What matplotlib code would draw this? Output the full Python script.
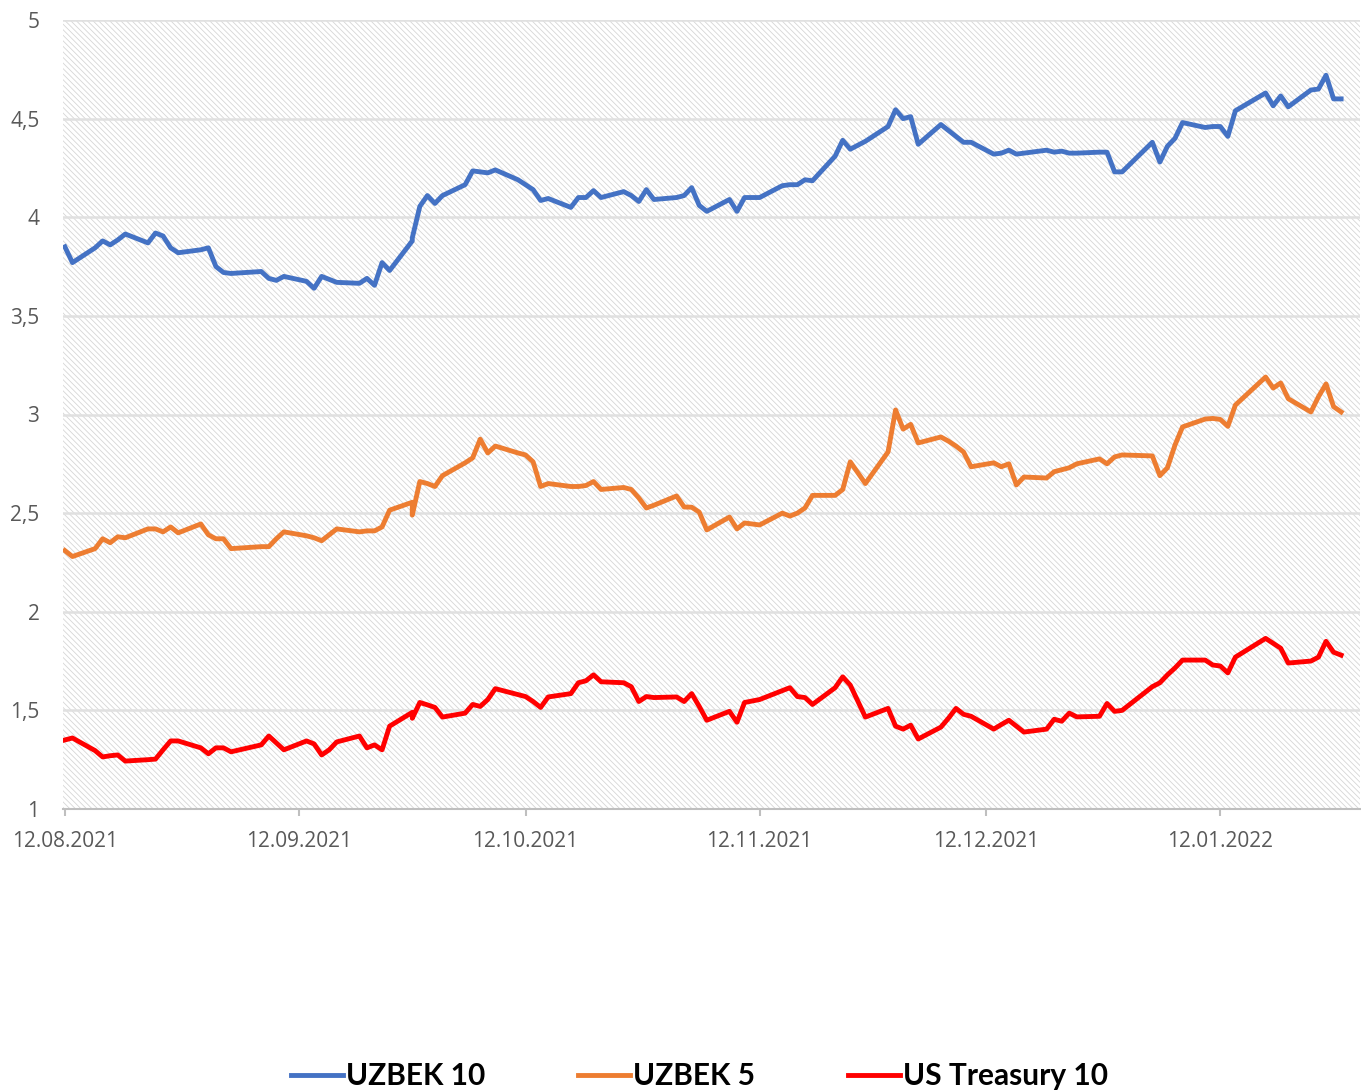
import matplotlib
matplotlib.use("Agg")
import matplotlib.pyplot as plt
import matplotlib.dates as mdates
from matplotlib.patches import Rectangle
import pandas as pd


# trading days, day of month per month
aug = [12, 13, 16, 17, 18, 19, 20, 23, 24, 25, 26, 27, 30, 31]
sep = [1, 2, 3, 7, 8, 9, 10, 13, 14, 15, 16, 17, 20, 21, 22, 23, 24, 27, 27, 28, 29, 30]
oct_ = [1, 4, 5, 6, 7, 8, 11, 12, 13, 14, 15, 18, 19, 20, 21, 22, 25, 26, 27, 28, 29]
nov = [1, 2, 3, 4, 5, 8, 9, 10, 12, 15, 16, 17, 18, 19, 22, 23, 24, 26, 29, 30]
dec = [1, 2, 3, 6, 7, 8, 9, 10, 13, 14, 15, 16, 17, 20, 21, 22, 23, 24, 27, 28, 29, 30]
jan = [3, 4, 5, 6, 7, 10, 11, 12, 13, 14, 18, 19, 20, 21, 24, 25, 26, 27, 28]

uzbek10 = [
    3.85, 3.77, 3.845, 3.88, 3.86, 3.885, 3.915, 3.87, 3.92, 3.905, 3.845, 3.82, 3.835, 3.845,
    3.75, 3.72, 3.715, 3.725, 3.69, 3.68, 3.70, 3.675, 3.64, 3.70, 3.685, 3.67, 3.665, 3.69,
    3.655, 3.77, 3.73, 3.88, 3.895, 4.055, 4.11, 4.07,
    4.11, 4.165, 4.235, 4.23, 4.225, 4.24, 4.19, 4.165, 4.14, 4.085, 4.095, 4.05, 4.10, 4.10,
    4.135, 4.10, 4.13, 4.11, 4.08, 4.14, 4.09,
    4.10, 4.11, 4.15, 4.06, 4.03, 4.09, 4.03, 4.10, 4.10, 4.16, 4.165, 4.165, 4.19, 4.185,
    4.31, 4.39, 4.345, 4.385, 4.46, 4.545,
    4.50, 4.51, 4.37, 4.47, 4.44, 4.41, 4.38, 4.38, 4.32, 4.325, 4.34, 4.32, 4.325, 4.34,
    4.33, 4.335, 4.325, 4.325, 4.33, 4.33, 4.23, 4.23,
    4.38, 4.28, 4.36, 4.40, 4.48, 4.455, 4.46, 4.46, 4.41, 4.54, 4.63, 4.565, 4.615, 4.56,
    4.645, 4.65, 4.72, 4.60, 4.60,
]

uzbek5 = [
    2.31, 2.28, 2.32, 2.37, 2.35, 2.38, 2.375, 2.42, 2.42, 2.405, 2.43, 2.40, 2.445, 2.39,
    2.37, 2.37, 2.32, 2.33, 2.33, 2.37, 2.405, 2.385, 2.375, 2.36, 2.39, 2.42, 2.405, 2.41,
    2.41, 2.43, 2.515, 2.555, 2.49, 2.66, 2.65, 2.635,
    2.69, 2.755, 2.78, 2.875, 2.805, 2.84, 2.805, 2.795, 2.76, 2.635, 2.65, 2.635, 2.635, 2.64,
    2.66, 2.62, 2.63, 2.62, 2.577, 2.526, 2.54,
    2.587, 2.531, 2.53, 2.505, 2.415, 2.48, 2.42, 2.45, 2.44, 2.50, 2.485, 2.50, 2.526, 2.59,
    2.59, 2.62, 2.76, 2.65, 2.81, 3.023,
    2.926, 2.95, 2.856, 2.886, 2.865, 2.84, 2.81, 2.735, 2.755, 2.735, 2.75, 2.643, 2.683, 2.678,
    2.71, 2.72, 2.73, 2.75, 2.775, 2.75, 2.785, 2.795,
    2.79, 2.69, 2.73, 2.845, 2.937, 2.977, 2.98, 2.975, 2.94, 3.048, 3.19, 3.134, 3.16, 3.08,
    3.013, 3.09, 3.155, 3.04, 3.013,
]

ust10 = [
    1.35, 1.36, 1.296, 1.264, 1.27, 1.274, 1.243, 1.25, 1.253, 1.30, 1.345, 1.345, 1.31, 1.28,
    1.31, 1.31, 1.29, 1.325, 1.37, 1.335, 1.30, 1.345, 1.33, 1.274, 1.30, 1.34, 1.37, 1.31,
    1.325, 1.30, 1.42, 1.49, 1.46, 1.54, 1.528, 1.515,
    1.466, 1.486, 1.53, 1.52, 1.555, 1.61, 1.58, 1.57, 1.545, 1.515, 1.568, 1.585, 1.64, 1.65,
    1.68, 1.645, 1.64, 1.62, 1.545, 1.57, 1.565,
    1.568, 1.545, 1.585, 1.52, 1.45, 1.495, 1.44, 1.54, 1.555, 1.60, 1.615, 1.57, 1.565, 1.53,
    1.615, 1.67, 1.628, 1.466, 1.51, 1.42,
    1.405, 1.425, 1.355, 1.415, 1.46, 1.51, 1.48, 1.47, 1.405, 1.428, 1.45, 1.42, 1.39, 1.405,
    1.455, 1.445, 1.486, 1.467, 1.47, 1.535, 1.495, 1.50,
    1.62, 1.64, 1.68, 1.715, 1.755, 1.755, 1.73, 1.725, 1.69, 1.77, 1.865, 1.84, 1.815, 1.74,
    1.75, 1.77, 1.85, 1.795, 1.78,
]

tick_dates = ["2021-08-12", "2021-09-12", "2021-10-12", "2021-11-12", "2021-12-12", "2022-01-12"]
y_ticks = [1, 1.5, 2, 2.5, 3, 3.5, 4, 4.5, 5]

dates = ([f"2021-08-{d:02d}" for d in aug] + [f"2021-09-{d:02d}" for d in sep]
         + [f"2021-10-{d:02d}" for d in oct_] + [f"2021-11-{d:02d}" for d in nov]
         + [f"2021-12-{d:02d}" for d in dec] + [f"2022-01-{d:02d}" for d in jan])
df = pd.DataFrame({"date": pd.to_datetime(dates), "u10": uzbek10, "u5": uzbek5, "us": ust10})

W, H = 1361, 1091
fig = plt.figure(figsize=(W / 100, H / 100), dpi=100)
ax = fig.add_axes([63 / W, 1 - 809 / H, (1360 - 63) / W, (809 - 20) / H])

# hatched plot area (fine light diagonal pattern)
plt.rcParams["hatch.linewidth"] = 0.6
ax.add_patch(Rectangle((0, 0), 1, 1, transform=ax.transAxes, facecolor="white",
                       edgecolor="#d6d6d6", hatch="\\" * 6, linewidth=0, zorder=0))

for y in y_ticks[1:]:
    ax.axhline(y, color="#e0e0e0", lw=1.8, zorder=1)

ax.plot(df["date"], df["u10"], color="#4472C4", lw=3.5, label="UZBEK 10", zorder=3,
        solid_joinstyle="round")
ax.plot(df["date"], df["u5"], color="#ED7D31", lw=3.5, label="UZBEK 5", zorder=3,
        solid_joinstyle="round")
ax.plot(df["date"], df["us"], color="#FF0000", lw=3.5, label="US Treasury 10", zorder=3,
        solid_joinstyle="round")

start = pd.Timestamp("2021-08-12")
ax.set_xlim(start - pd.Timedelta(hours=6), start + pd.Timedelta(days=171.5))
ax.set_ylim(1, 5)

for s in ["top", "right", "left"]:
    ax.spines[s].set_visible(False)
ax.spines["bottom"].set_color("#bfbfbf")
ax.spines["bottom"].set_linewidth(1.5)

ax.set_xticks(pd.to_datetime(tick_dates))
ax.xaxis.set_major_formatter(mdates.DateFormatter("%d.%m.%Y"))
ax.set_yticks(y_ticks)
ax.set_yticklabels([f"{v:g}".replace(".", ",") for v in y_ticks])

ax.tick_params(axis="x", direction="out", length=5, width=1.5, color="#bfbfbf",
               labelsize=15, labelcolor="#595959", pad=11)
ax.tick_params(axis="y", length=0, labelsize=15, labelcolor="#595959", pad=17)
for lab in ax.get_xticklabels() + ax.get_yticklabels():
    lab.set_fontfamily(["Open Sans", "DejaVu Sans"])

leg = fig.legend(loc="center", bbox_to_anchor=(0.514, 0.0135), ncol=3, frameon=False,
                 handlelength=1.75, handletextpad=0.1, columnspacing=3.1,
                 prop={"family": ["Lato", "DejaVu Sans"], "weight": "bold", "size": 21.5})
for line in leg.get_lines():
    line.set_linewidth(3.5)

fig.savefig("out.png", dpi=100)
